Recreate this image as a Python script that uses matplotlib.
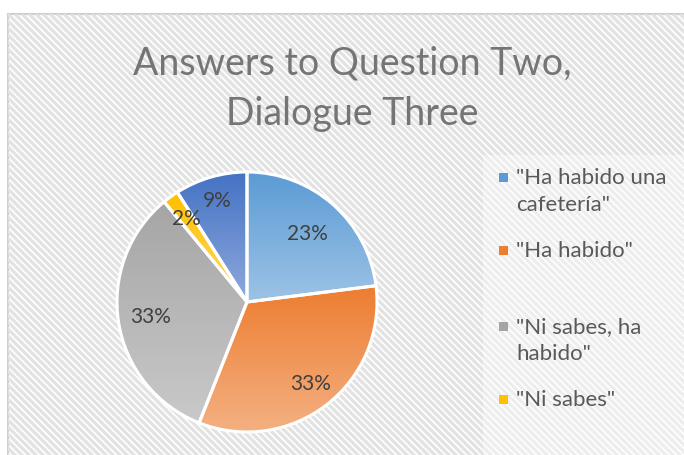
import numpy as np
import matplotlib.pyplot as plt
from matplotlib.patches import Rectangle
from matplotlib.collections import LineCollection
from matplotlib.colors import LinearSegmentedColormap

plt.rcParams['font.family'] = ['Lato', 'DejaVu Sans']

# Daten
values = [23, 33, 33, 2, 9]
legend_labels = ['"Ha habido una\ncafetería"', '"Ha habido"', '"Ni sabes, ha\nhabido"', '"Ni sabes"']
top_colors = ['#5b9bd5', '#ed7d31', '#a5a5a5', '#ffc000', '#4472c4']
bottom_colors = ['#9dc3e6', '#f4b183', '#c9c9c9', '#ffd966', '#8faadc']

# Abstand der Prozentbeschriftung vom Mittelpunkt (Layout)
pct_r = [0.70, 0.80, 0.75, 0.79, 0.81]

W, H = 684, 455
fig = plt.figure(figsize=(W / 100, H / 100), dpi=100)
fig.patch.set_facecolor('white')

# Hintergrund mit Schraffur
bg = fig.add_axes([0, 0, 1, 1])
bg.set_xlim(0, W)
bg.set_ylim(H, 0)
bg.axis('off')
frame = Rectangle((8, 14), W, H, facecolor='white', edgecolor='#d0d0d0',
                  linewidth=1.5, zorder=0.2)
bg.add_patch(frame)
segs = [[(k, 14), (k + H, 14 + H)] for k in np.arange(8 - H, W, 7)]
stripes = LineCollection(segs, colors='#e2e2e2', linewidths=2.3, zorder=0.5)
bg.add_collection(stripes)
stripes.set_clip_path(frame)
# Legendenbereich heller
bg.add_patch(Rectangle((483, 155), W, H, facecolor='white', edgecolor='none',
                       alpha=0.4, zorder=1))

bg.text(352, 75, 'Answers to Question Two,', ha='center', va='baseline',
        fontsize=27, color='#757575')
bg.text(352, 125, 'Dialogue Three', ha='center', va='baseline',
        fontsize=27, color='#757575')

# Kreisdiagramm
cx, cy, r = 247, 302, 130
ax = fig.add_axes([(cx - r) / W, (H - cy - r) / H, 2 * r / W, 2 * r / H])
wedges, texts, autotexts = ax.pie(values, startangle=90, counterclock=False,
                                  autopct='%1.0f%%',
                                  wedgeprops=dict(edgecolor='white', linewidth=2.2),
                                  textprops=dict(fontsize=15, color='#404040'))

# Farbverlauf pro Segment
grad = np.linspace(0, 1, 256).reshape(-1, 1)
for w, c1, c2 in zip(wedges, top_colors, bottom_colors):
    w.set_facecolor('none')
    verts = w.get_path().vertices
    y0, y1 = verts[:, 1].min(), verts[:, 1].max()
    x0, x1 = verts[:, 0].min(), verts[:, 0].max()
    cmap = LinearSegmentedColormap.from_list('g', [c2, c1])
    im = ax.imshow(grad, cmap=cmap, extent=[x0, x1, y0, y1], origin='lower',
                   aspect='auto', zorder=0.5)
    im.set_clip_path(w)

for w, t, d in zip(wedges, autotexts, pct_r):
    ang = np.deg2rad((w.theta1 + w.theta2) / 2)
    t.set_position((d * np.cos(ang), d * np.sin(ang)))
    t.set_zorder(3)

ax.set_xlim(-1, 1)
ax.set_ylim(-1, 1)
ax.set_aspect('equal')
ax.axis('off')

# Legende
leg_y = [177, 250, 326, 399]
for lab, col, y in zip(legend_labels, top_colors, leg_y):
    bg.add_patch(Rectangle((499, y - 4.5), 9, 9, facecolor=col, edgecolor='none', zorder=3))
    for i, line in enumerate(lab.split('\n')):
        bg.text(516, y + 7 + 27 * i, line, ha='left', va='baseline',
                fontsize=16, color='#595959', zorder=3)

fig.savefig('out.png', dpi=100)
